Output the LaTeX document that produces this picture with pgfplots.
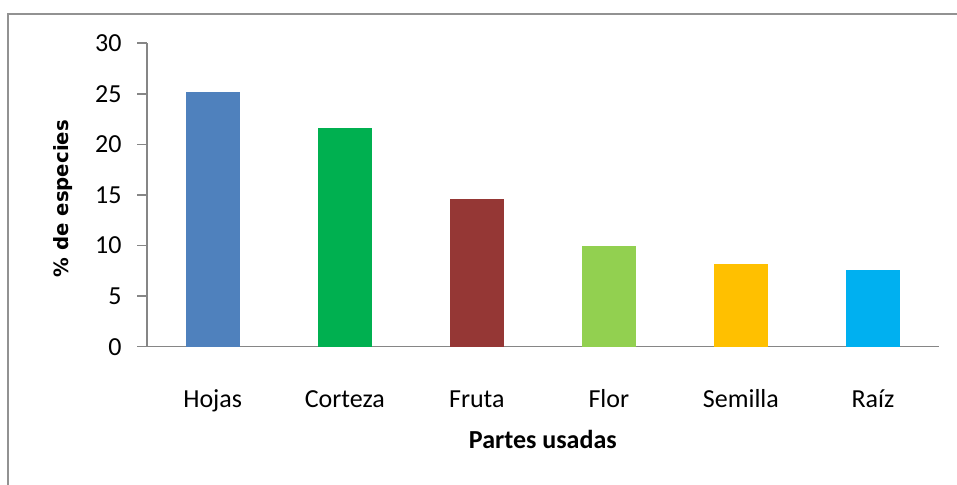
\documentclass[border=0pt]{standalone}
\usepackage{fontspec}
\setmainfont{Carlito}
\newfontfamily\ylabfont{DejaVu Sans}
\usepackage{pgfplots}
\pgfplotsset{compat=1.18}
\definecolor{axgray}{HTML}{868686}
\definecolor{cHojas}{HTML}{4F81BD}
\definecolor{cCorteza}{HTML}{00B050}
\definecolor{cFruta}{HTML}{953735}
\definecolor{cFlor}{HTML}{92D050}
\definecolor{cSemilla}{HTML}{FFC000}
\definecolor{cRaiz}{HTML}{00B0F0}
\begin{document}
\begin{tikzpicture}
\useasboundingbox (0,0) rectangle (478.5pt,242.5pt);
\fill[white] (0,0) rectangle (478.5pt,242.5pt);
\draw[line width=0.9pt, color=axgray!90] (4pt,-10pt) rectangle (490pt,235.5pt);
\begin{axis}[
  at={(73.35pt,69.15pt)}, anchor=south west,
  scale only axis, width=396.15pt, height=151.7pt,
  xmin=-0.5, xmax=5.5, ymin=0, ymax=30,
  ytick={0,5,10,15,20,25,30},
  xtick={0,1,2,3,4,5},
  xticklabels={Hojas,Corteza,Fruta,Flor,Semilla,Ra\'{\i}z},
  axis lines*=left,
  axis line style={color=axgray, line width=0.8pt},
  tick align=outside,
  major tick length=4.85pt,
  major tick style={color=axgray, line width=0.8pt},
  major x tick style={draw=none},
  /pgf/number format/assume math mode=true,
  tick label style={font=\fontsize{13}{15}\selectfont, color=black},
  yticklabel style={anchor=east, inner sep=0pt, xshift=-7.5pt},
  xticklabel style={anchor=base, inner sep=0pt, yshift=-25.65pt},
  ylabel={\ylabfont\bfseries\% de especies},
  ylabel style={at={(axis description cs:-0.1056,0.488)}, anchor=center, rotate=0, font=\fontsize{9.85}{11}\selectfont},
  xlabel={\bfseries Partes usadas},
  xlabel style={at={(axis description cs:0.5,-0.337)}, anchor=base, inner sep=0pt, font=\fontsize{13}{15}\selectfont},
  ybar, bar width=27pt,
  clip=false,
]
\addplot[fill=cHojas, draw=none, bar shift=0pt] coordinates {(0,25.2)};
\addplot[fill=cCorteza, draw=none, bar shift=0pt] coordinates {(1,21.6)};
\addplot[fill=cFruta, draw=none, bar shift=0pt] coordinates {(2,14.6)};
\addplot[fill=cFlor, draw=none, bar shift=0pt] coordinates {(3,10.0)};
\addplot[fill=cSemilla, draw=none, bar shift=0pt] coordinates {(4,8.2)};
\addplot[fill=cRaiz, draw=none, bar shift=0pt] coordinates {(5,7.6)};
\end{axis}
\end{tikzpicture}
\end{document}
